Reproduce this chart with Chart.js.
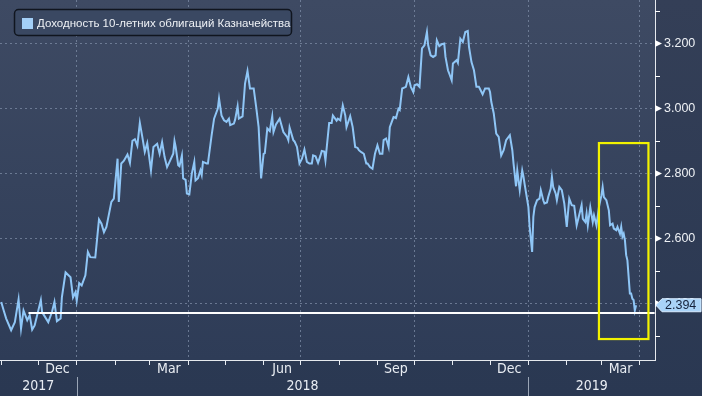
<!DOCTYPE html>
<html><head><meta charset="utf-8">
<script src="https://cdn.jsdelivr.net/npm/chart.js@4.4.1/dist/chart.umd.min.js"></script>
<style>html,body{margin:0;padding:0;background:#2b3953;overflow:hidden}#wrap{width:702px;height:396px}</style>
</head><body><div id="wrap"><canvas id="c" width="702" height="396"></canvas></div>
<script>
const seriesLabel = 'Доходность 10-летних облигаций Казначейства';
const dates = [
'2017-11-01','2017-11-03','2017-11-05','2017-11-09','2017-11-12','2017-11-15','2017-11-17','2017-11-19','2017-11-22','2017-11-24','2017-11-26','2017-11-28',
'2017-12-03','2017-12-04','2017-12-09','2017-12-12','2017-12-14','2017-12-16','2017-12-19','2017-12-20','2017-12-23','2017-12-27','2017-12-29','2017-12-31',
'2018-01-01','2018-01-03','2018-01-05','2018-01-08','2018-01-10','2018-01-12','2018-01-16','2018-01-19','2018-01-21','2018-01-23','2018-01-25','2018-01-29','2018-01-31',
'2018-02-03','2018-02-04','2018-02-06','2018-02-08','2018-02-11','2018-02-13','2018-02-15','2018-02-17','2018-02-19','2018-02-21','2018-02-23','2018-02-25','2018-02-27','2018-02-28',
'2018-03-02','2018-03-04','2018-03-07','2018-03-09','2018-03-11','2018-03-13','2018-03-15','2018-03-17','2018-03-20','2018-03-21','2018-03-22','2018-03-24','2018-03-25','2018-03-27','2018-03-28','2018-03-30','2018-03-31',
'2018-04-02','2018-04-04','2018-04-06','2018-04-07','2018-04-09','2018-04-11','2018-04-12','2018-04-13','2018-04-16','2018-04-17','2018-04-20','2018-04-22','2018-04-25','2018-04-26','2018-04-28','2018-04-30',
'2018-05-02','2018-05-04','2018-05-05','2018-05-08','2018-05-09','2018-05-11','2018-05-12','2018-05-15','2018-05-17','2018-05-19','2018-05-21','2018-05-24','2018-05-26','2018-05-28','2018-05-30',
'2018-06-01','2018-06-02','2018-06-04','2018-06-06','2018-06-08','2018-06-09','2018-06-11','2018-06-14','2018-06-17','2018-06-20','2018-06-21','2018-06-22','2018-06-25','2018-06-26','2018-06-28','2018-06-30',
'2018-07-02','2018-07-04','2018-07-06','2018-07-08','2018-07-10','2018-07-11','2018-07-13','2018-07-15','2018-07-17','2018-07-18','2018-07-20','2018-07-21','2018-07-24','2018-07-26','2018-07-27','2018-07-30','2018-07-31',
'2018-08-02','2018-08-04','2018-08-06','2018-08-07','2018-08-10','2018-08-12','2018-08-14','2018-08-16','2018-08-17','2018-08-19','2018-08-21','2018-08-23','2018-08-24','2018-08-26','2018-08-28','2018-08-30',
'2018-09-01','2018-09-03','2018-09-05','2018-09-06','2018-09-08','2018-09-10','2018-09-11','2018-09-14','2018-09-16','2018-09-18','2018-09-19','2018-09-21','2018-09-24','2018-09-26','2018-09-28','2018-09-30',
'2018-10-01','2018-10-03','2018-10-05','2018-10-07','2018-10-09','2018-10-11','2018-10-12','2018-10-14','2018-10-16','2018-10-18','2018-10-19','2018-10-21','2018-10-23','2018-10-25','2018-10-26','2018-10-28','2018-10-29','2018-10-31',
'2018-11-01','2018-11-04','2018-11-05','2018-11-07','2018-11-09','2018-11-11','2018-11-13','2018-11-14','2018-11-16','2018-11-18','2018-11-20','2018-11-22','2018-11-25','2018-11-27','2018-11-30',
'2018-12-01','2018-12-02','2018-12-04','2018-12-06','2018-12-08','2018-12-10','2018-12-12','2018-12-14','2018-12-17','2018-12-19','2018-12-20','2018-12-22','2018-12-23','2018-12-25','2018-12-27','2018-12-28','2018-12-29',
'2019-01-01','2019-01-02','2019-01-04','2019-01-05','2019-01-06','2019-01-08','2019-01-10','2019-01-11','2019-01-13','2019-01-14','2019-01-16','2019-01-17','2019-01-19','2019-01-20','2019-01-21','2019-01-23','2019-01-24','2019-01-26','2019-01-28','2019-01-30',
'2019-02-01','2019-02-03','2019-02-05','2019-02-07','2019-02-09','2019-02-11','2019-02-13','2019-02-14','2019-02-16','2019-02-17','2019-02-18','2019-02-20','2019-02-22','2019-02-23','2019-02-25','2019-02-27',
'2019-03-01','2019-03-02','2019-03-03','2019-03-05','2019-03-07','2019-03-08','2019-03-10','2019-03-11','2019-03-13','2019-03-14','2019-03-16','2019-03-17','2019-03-18','2019-03-19','2019-03-20','2019-03-21','2019-03-22','2019-03-24','2019-03-25','2019-03-26','2019-03-27','2019-03-28','2019-03-29'
];
const yields = [
2.404,2.378,2.353,2.317,2.342,2.412,2.322,2.378,2.348,2.363,2.319,2.332,
2.410,2.373,2.342,2.373,2.404,2.345,2.353,2.418,2.495,2.480,2.418,2.434,
2.408,2.462,2.455,2.486,2.558,2.542,2.541,2.658,2.645,2.619,2.635,2.712,2.722,
2.845,2.712,2.830,2.838,2.858,2.832,2.900,2.905,2.885,2.955,2.912,2.866,2.893,2.866,
2.809,2.881,2.891,2.860,2.896,2.850,2.819,2.835,2.860,2.899,2.880,2.825,2.822,2.855,2.784,2.780,2.738,
2.735,2.799,2.835,2.778,2.785,2.809,2.795,2.835,2.830,2.830,2.917,2.968,2.999,3.030,2.978,2.963,
2.958,2.968,2.948,2.953,2.965,3.006,2.968,2.975,3.076,3.115,3.061,3.061,3.004,2.942,2.784,
2.860,2.862,2.938,2.930,2.975,2.927,2.950,2.968,2.927,2.912,2.902,2.941,2.902,2.898,2.881,2.830,
2.845,2.873,2.835,2.830,2.830,2.855,2.852,2.832,2.855,2.869,2.867,2.840,2.955,2.955,2.978,2.962,2.968,
2.963,3.009,2.978,2.942,2.976,2.942,2.881,2.878,2.871,2.865,2.860,2.830,2.830,2.819,2.814,2.860,
2.886,2.860,2.860,2.902,2.907,2.881,2.942,2.973,2.970,2.999,2.995,3.061,3.066,3.096,3.066,3.050,
3.071,3.074,3.066,3.184,3.194,3.235,3.194,3.163,3.158,3.163,3.209,3.191,3.197,3.199,3.158,3.117,3.107,3.086,
3.138,3.148,3.140,3.214,3.204,3.235,3.238,3.189,3.142,3.117,3.066,3.066,3.043,3.061,3.061,
3.050,3.020,2.984,2.922,2.912,2.855,2.871,2.902,2.917,2.871,2.830,2.760,2.809,2.748,2.809,2.790,2.765,
2.696,2.635,2.558,2.666,2.696,2.717,2.722,2.748,2.717,2.707,2.710,2.727,2.752,2.789,2.758,2.738,2.717,2.758,2.748,2.707,
2.635,2.722,2.702,2.700,2.640,2.671,2.702,2.660,2.650,2.676,2.640,2.696,2.650,2.671,2.640,2.696,
2.732,2.758,2.727,2.717,2.686,2.640,2.645,2.630,2.625,2.635,2.614,2.635,2.605,2.614,2.594,2.548,2.532,2.430,2.430,2.414,2.410,2.378,2.394
];
const refLineDates = ['2017-11-23','2019-04-13'];
const refLineValues = [2.37, 2.37];
const highlightDates = ['2019-02-27','2019-04-08'];
const highlightValues = [2.29, 2.893];
const lastValue = 2.394;
const lastValueText = '2.394';
const yTicks = [2.3,2.4,2.5,2.6,2.7,2.8,2.9,3.0,3.1,3.2,3.3];
const yLabelled = [2.4,2.6,2.8,3.0,3.2];
const monthLabels = [['2017-12','Dec'],['2018-03','Mar'],['2018-06','Jun'],['2018-09','Sep'],['2018-12','Dec'],['2019-03','Mar']];
const yearLabels = ['2017','2018','2019'];
const axisStart = '2017-10-31';
const axisEnd = '2019-04-13';
const yMin = 2.2255, yMax = 3.3332;

const DAY = 864e5;
function dnum(s){const p=s.split('-').map(Number);return Date.UTC(p[0],p[1]-1,p[2]||1)/DAY;}
const xMin = dnum(axisStart), xMax = dnum(axisEnd) + 0.3;
const monthStarts = [];
for (let y=2017,m=10; y<2019 || (y===2019 && m<=3); ){ monthStarts.push(Date.UTC(y,m,1)/DAY); m++; if(m>11){m=0;y++;} }
const isQuarter = v => { const d=new Date(v*DAY); return d.getUTCMonth()%3===0; };

const points = dates.map((d,i)=>({x:dnum(d), y:yields[i]}));
const refPts = refLineDates.map((d,i)=>({x:Math.min(dnum(d),xMax), y:refLineValues[i]}));

const AXIS_FONT = "'Liberation Sans Narrow','DejaVu Sans Condensed','Liberation Sans',sans-serif";

const deco = {
  id:'deco',
  beforeDraw(chart){
    const {ctx, chartArea:a} = chart;
    ctx.save();
    const g0 = ctx.createLinearGradient(0,0,0,396);
    g0.addColorStop(0,'#343f57'); g0.addColorStop(1,'#2a3852');
    ctx.fillStyle=g0; ctx.fillRect(0,0,702,396);
    const g = ctx.createLinearGradient(0,a.top,0,a.bottom);
    g.addColorStop(0,'#3e4a63'); g.addColorStop(1,'#2e3c57');
    ctx.fillStyle=g; ctx.fillRect(a.left,a.top,a.right-a.left,a.bottom-a.top);
    ctx.restore();
  },
  afterDraw(chart){
    const {ctx, chartArea:a, scales:{x,y}} = chart;
    ctx.save();
    // highlight box
    const hx1 = x.getPixelForValue(dnum(highlightDates[0])), hx2 = x.getPixelForValue(dnum(highlightDates[1]));
    const hy1 = y.getPixelForValue(highlightValues[1]), hy2 = y.getPixelForValue(highlightValues[0]);
    ctx.strokeStyle='#f2f200'; ctx.lineWidth=2.2;
    ctx.strokeRect(hx1,hy1,hx2-hx1,hy2-hy1);
    // y axis tick marks
    ctx.fillStyle='#ffffff'; ctx.strokeStyle='#ffffff'; ctx.lineWidth=1;
    yTicks.forEach(v=>{
      const py = Math.round(y.getPixelForValue(v))+0.5;
      if (yLabelled.some(l=>Math.abs(l-v)<1e-6)) {
        ctx.beginPath(); ctx.moveTo(a.right,py-3.5); ctx.lineTo(a.right+7,py); ctx.lineTo(a.right,py+3.5); ctx.closePath(); ctx.fill();
      } else {
        ctx.beginPath(); ctx.moveTo(a.right,py); ctx.lineTo(a.right+5,py); ctx.stroke();
      }
    });
    // last value label
    const ly = y.getPixelForValue(lastValue);
    const lx = a.right+1;
    ctx.beginPath();
    ctx.moveTo(lx,ly); ctx.lineTo(lx+6,ly-6.5); ctx.lineTo(701,ly-6.5); ctx.lineTo(701,ly+6.5); ctx.lineTo(lx+6,ly+6.5); ctx.closePath();
    ctx.fillStyle='#a9d3f8'; ctx.fill();
    ctx.strokeStyle='#d8ecff'; ctx.lineWidth=1; ctx.stroke();
    ctx.fillStyle='#14213a'; ctx.font="12.5px 'Liberation Sans',sans-serif"; ctx.textBaseline='middle'; ctx.textAlign='left';
    ctx.fillText(lastValueText, lx+9, ly+0.5);
    // x axis month labels
    ctx.fillStyle='#e9edf3'; ctx.font="14px "+AXIS_FONT; ctx.textAlign='center'; ctx.textBaseline='middle';
    monthLabels.forEach(([ym,txt])=>{
      const s = dnum(ym+'-01'); const p = ym.split('-').map(Number);
      const e = Date.UTC(p[0], p[1], 1)/DAY;
      ctx.fillText(txt, x.getPixelForValue((s+e)/2), a.bottom+9);
    });
    // year labels + separators
    yearLabels.forEach(yr=>{
      const s = Math.max(xMin, dnum(yr+'-01-01')); const e = Math.min(xMax, dnum((+yr+1)+'-01-01'));
      ctx.fillText(yr, (x.getPixelForValue(s)+x.getPixelForValue(e))/2, a.bottom+26);
      if (dnum(yr+'-01-01')>xMin) {
        const px = Math.round(x.getPixelForValue(dnum(yr+'-01-01')))+0.5;
        ctx.strokeStyle='#9aa5b6'; ctx.lineWidth=1;
        ctx.beginPath(); ctx.moveTo(px,a.bottom+17); ctx.lineTo(px,396); ctx.stroke();
      }
    });
    // legend
    const lgX=14.5, lgY=9.5, lgW=277, lgH=26;
    ctx.beginPath(); ctx.roundRect(lgX,lgY,lgW,lgH,4);
    ctx.fillStyle='#3a4862'; ctx.fill();
    ctx.strokeStyle='#10151f'; ctx.lineWidth=1.5; ctx.stroke();
    ctx.fillStyle='#a3cff7'; ctx.fillRect(22,18,11,11);
    ctx.fillStyle='#eef1f5'; ctx.font="11.5px 'Liberation Sans',sans-serif"; ctx.textAlign='left'; ctx.textBaseline='middle';
    ctx.fillText(chart.data.datasets[1].label, 37, 23.5);
    ctx.restore();
  }
};

new Chart(document.getElementById('c'), {
  type:'line',
  data:{datasets:[
    {label:'ref', data:refPts, borderColor:'#ffffff', borderWidth:2, pointRadius:0, order:0},
    {label:seriesLabel, data:points, borderColor:'#8fc6f6', borderWidth:2, pointRadius:0, tension:0, order:1}
  ]},
  options:{
    responsive:false, animation:false, devicePixelRatio:1,
    layout:{padding:0},
    plugins:{legend:{display:false}, tooltip:{enabled:false}},
    scales:{
      x:{type:'linear', min:xMin, max:xMax,
         afterBuildTicks:s=>{s.ticks = monthStarts.map(v=>({value:v}));},
         afterFit:s=>{s.height=36; s.paddingLeft=0; s.paddingRight=0; s.paddingTop=0; s.paddingBottom=0;},
         ticks:{display:false},
         grid:{color:c=> (c.tick && isQuarter(c.tick.value)) ? 'rgba(125,140,165,0.75)' : 'rgba(0,0,0,0)', lineWidth:1, drawTicks:true, tickLength:5, tickColor:'#e8ecf2'},
         border:{display:true, color:'#e6e9ee', width:1, dash:[2,3]}
      },
      y:{position:'right', min:yMin, max:yMax,
         afterBuildTicks:s=>{s.ticks = yTicks.map(v=>({value:v}));},
         afterFit:s=>{s.width=47; s.paddingTop=0; s.paddingBottom=0; s.paddingLeft=0; s.paddingRight=0;},
         ticks:{autoSkip:false, padding:9, color:'#eef1f5', font:{family:"'Liberation Sans',sans-serif", size:12.5},
                callback:v=> yLabelled.some(l=>Math.abs(l-v)<1e-6) ? v.toFixed(3) : ''},
         grid:{color:c=> (c.tick && yLabelled.some(l=>Math.abs(l-c.tick.value)<1e-6)) ? 'rgba(125,140,165,0.75)' : 'rgba(0,0,0,0)', drawTicks:false},
         border:{display:true, color:'#e6e9ee', width:1, dash:[2,3]}
      }
    }
  },
  plugins:[deco]
});
</script>
</body></html>
